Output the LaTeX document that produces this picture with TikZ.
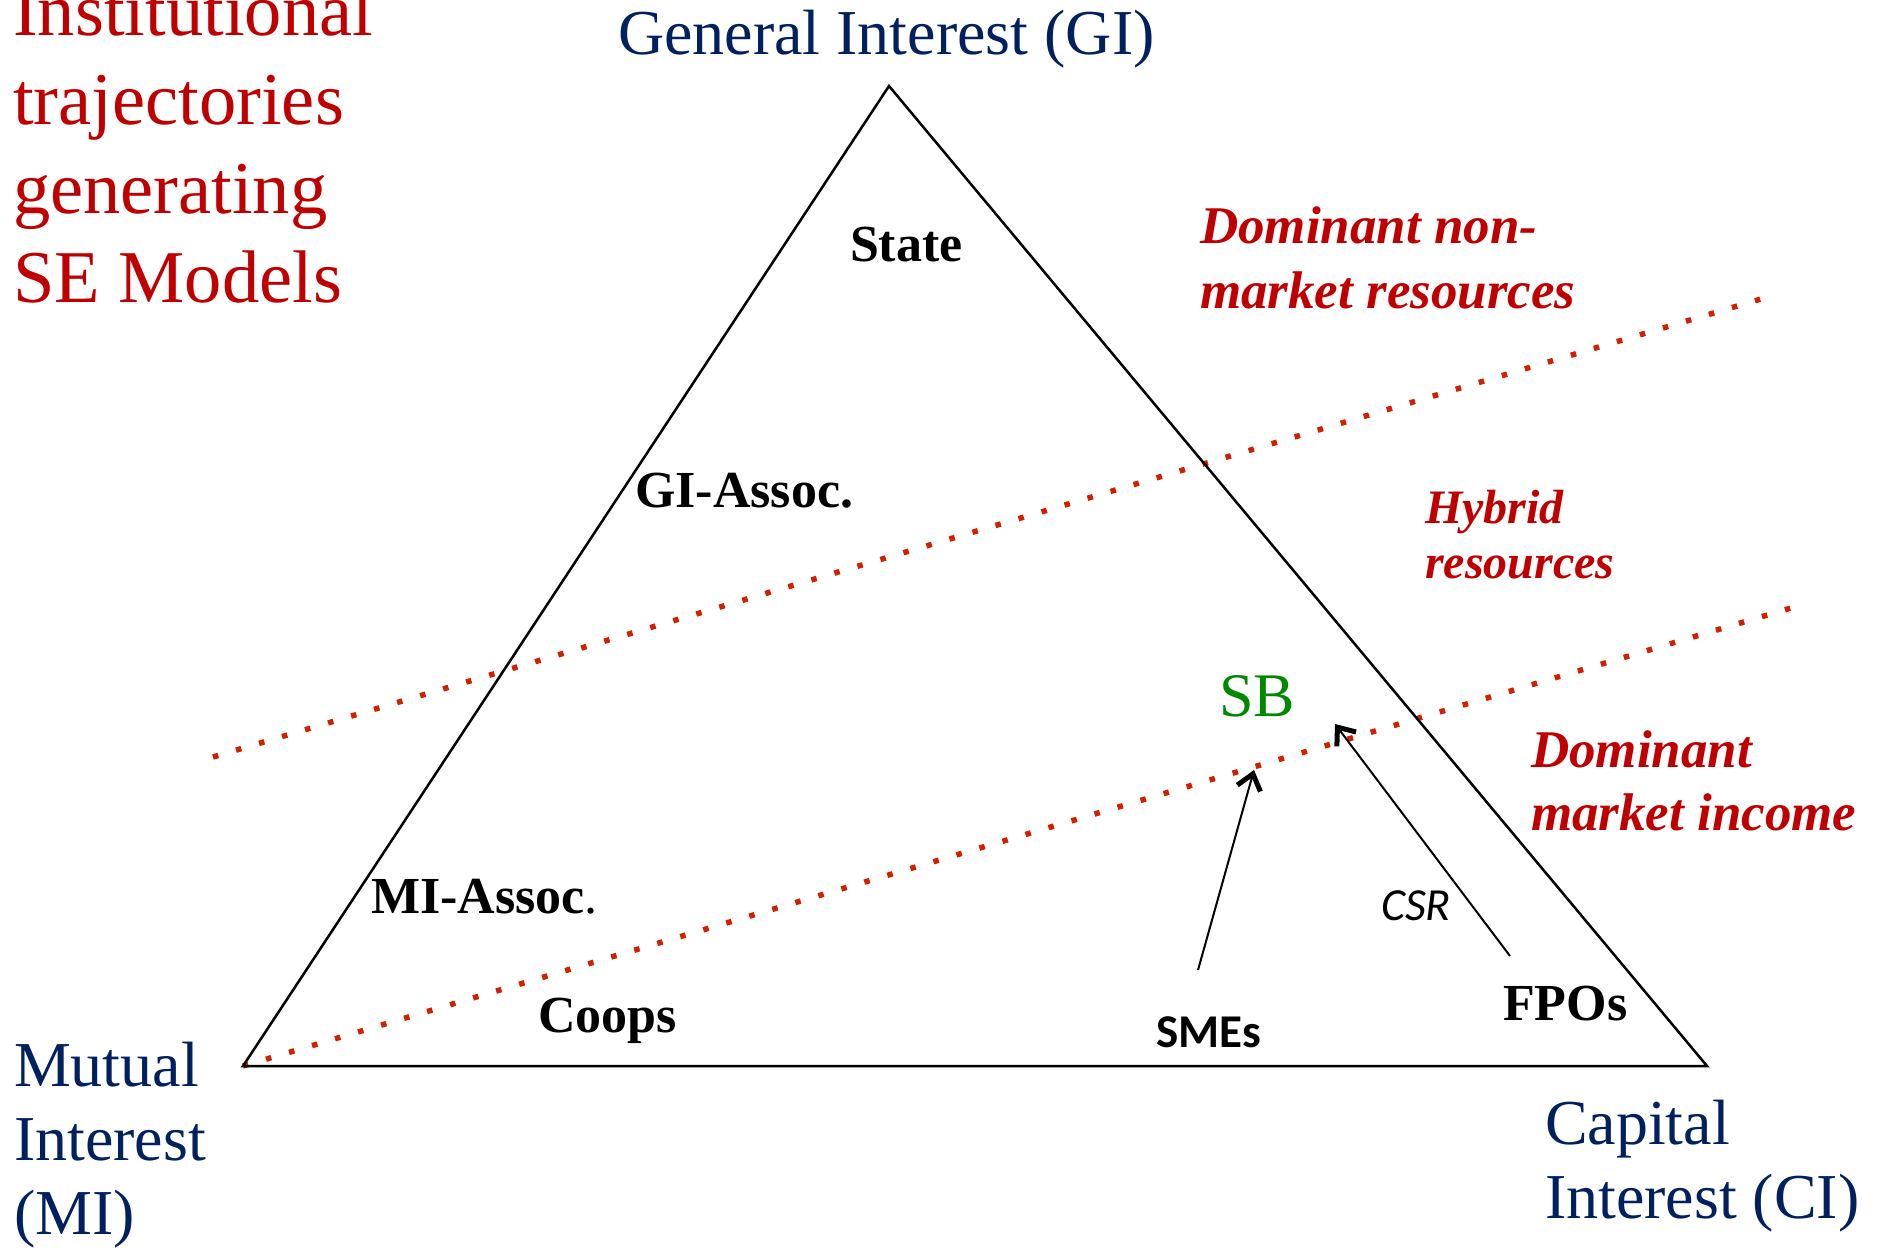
\documentclass[tikz,border=0pt]{standalone}
\usepackage{fontspec}
\setmainfont{Liberation Serif}
\newfontfamily\calibrifont{Carlito}
\usetikzlibrary{arrows.meta}
\definecolor{navy}{RGB}{0,32,96}
\definecolor{dred}{RGB}{192,0,0}
\definecolor{dotred}{RGB}{212,30,0}
\definecolor{sbgreen}{RGB}{0,136,0}
\begin{document}
\begin{tikzpicture}[x=1pt,y=-1pt,
  lbl/.style={inner sep=0pt, outer sep=0pt, anchor=base west},
  corner/.style={lbl, text=navy, font=\fontsize{64}{74}\selectfont, align=left},
  actor/.style={lbl, font=\fontsize{52}{60}\selectfont\bfseries},
  zone/.style={lbl, text=dred, align=left},
  border/.style={dotred, line width=5.5pt, dash pattern=on 5.5pt off 18.5pt},
  traj/.style={line width=2pt, -{Straight Barb[length=15pt,width=24pt,line width=5pt]}},
]
\useasboundingbox (0,0) rectangle (1878,1255);

% triangle corners
\coordinate (GI) at (889,86);
\coordinate (MI) at (243,1066);
\coordinate (CI) at (1707,1066);

% resource boundaries
\coordinate (b1s) at (213,757);
\coordinate (b1e) at (1761,299);
\coordinate (b2e) at (1791,608);
\draw[border] (b1s) -- (b1e);
\draw[border] (MI) -- (b2e);

\draw[line width=2.5pt, line join=miter] (GI) -- (MI) -- (CI) -- cycle;

% title (anchor = baseline of last line)
\node[lbl, text=dred, align=left, font=\fontsize{74.5}{89}\selectfont] (title) at (13,302)
  {Institutional\\trajectories\\generating\\SE Models};

% corner labels
\node[corner] (gilbl) at (618,55) {General Interest (GI)};
\node[corner] (milbl) at (14,1234) {Mutual\\Interest\\(MI)};
\node[corner] (cilbl) at (1545,1218) {Capital\\Interest (CI)};

% actors
\node[actor] (state) at (850,261) {State};
\node[actor] (giassoc) at (635,507) {GI-Assoc.};
\node[actor] (miassoc) at (371,913) {MI-Assoc{\mdseries .}};
\node[actor] (coops) at (538,1032) {Coops};
\node[actor] (fpos) at (1503,1020) {FPOs};
\node[lbl, font=\calibrifont\fontsize{47}{55}\selectfont\bfseries] (smes) at (1156,1047) {SMEs};
\node[lbl, text=sbgreen, font=\fontsize{62}{70}\selectfont] (sb) at (1219,716) {SB};

% zones
\node[zone, font=\fontsize{53}{65}\selectfont\bfseries\itshape] (nonmarket) at (1200,308)
  {Dominant non-\\market resources};
\node[zone, font=\fontsize{48}{55}\selectfont\bfseries\itshape] (hybrid) at (1425,578)
  {Hybrid\\resources};
\node[zone, font=\fontsize{53}{63}\selectfont\bfseries\itshape] (market) at (1531,830)
  {Dominant\\market income};

% trajectories
\coordinate (smesT) at (1198,970);
\coordinate (smesH) at (1254,770);
\coordinate (fposT) at (1510,956);
\coordinate (fposH) at (1335,724);
\draw[traj] (smesT) -- (smesH);
\draw[traj] (fposT) -- (fposH);
\node[lbl, font=\calibrifont\fontsize{46}{54}\selectfont\itshape] (csr) at (1381,920) {CSR};
\end{tikzpicture}
\end{document}
